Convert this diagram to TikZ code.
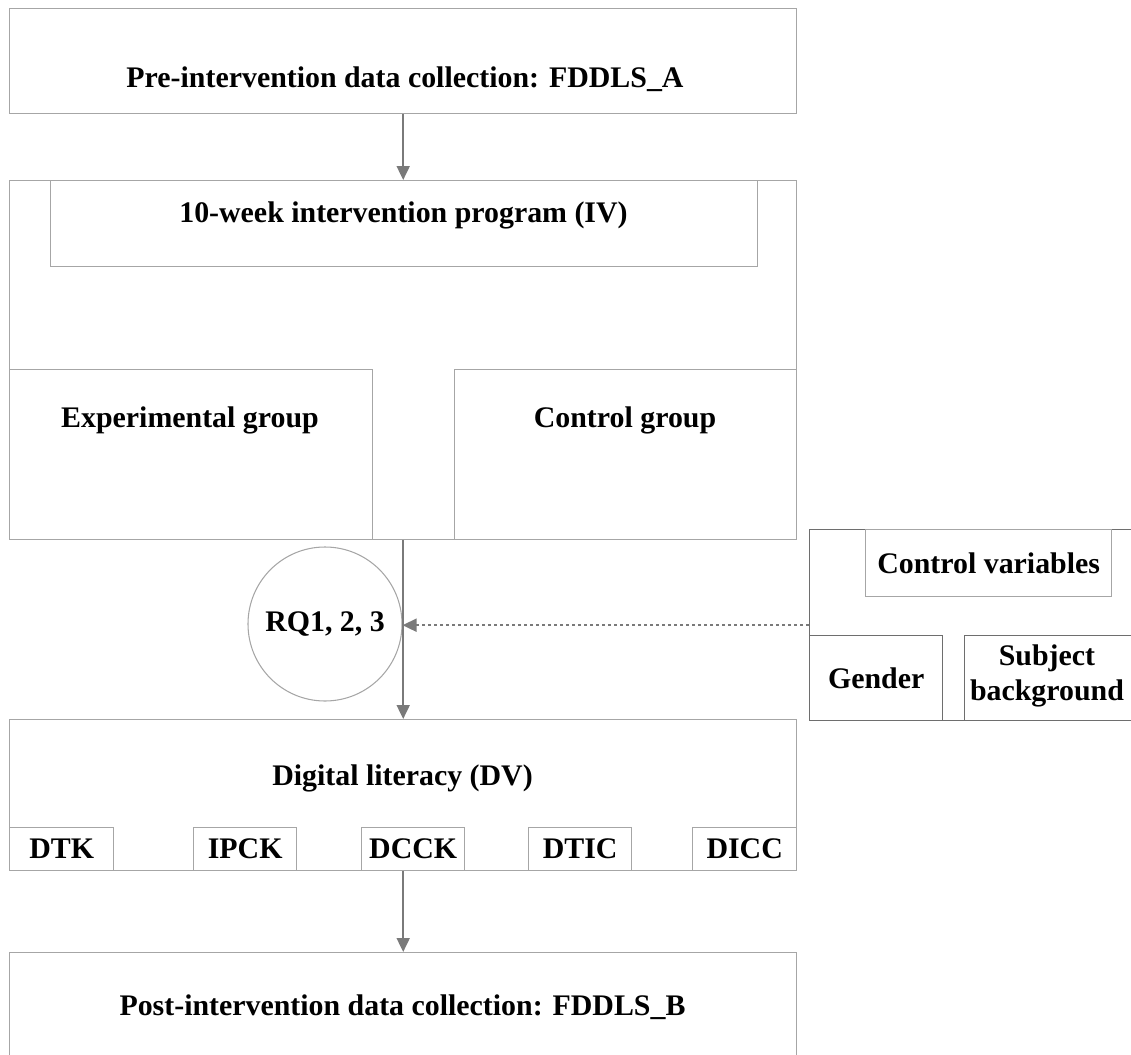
\documentclass[tikz,border=0pt]{standalone}
\usepackage{fontspec}
\setmainfont{Liberation Serif}
\usepackage{tikz}
\usetikzlibrary{positioning, arrows.meta}
\definecolor{boxGrey}{HTML}{A6A6A6}
\definecolor{varGrey}{HTML}{6E6E6E}
\definecolor{arrowGrey}{HTML}{7A7A7A}

\begin{document}
\begin{tikzpicture}[font=\fontsize{17}{20}\selectfont\bfseries,
  box/.style={draw=boxGrey, line width=0.8pt, anchor=north west, inner sep=0pt},
  varbox/.style={box, draw=varGrey},
  txt/.style={anchor=center, inner sep=0pt, align=center},
  flow/.style={draw=arrowGrey, line width=1.1pt, -{Triangle[length=0.28cm, width=0.26cm]}},
  hint/.style={draw=arrowGrey, line width=1pt, dash pattern=on 0.06cm off 0.06cm, -{Triangle[length=0.28cm, width=0.26cm]}}]
  \useasboundingbox (0,0) rectangle (22.62,-21.10);
  \clip (0,0) rectangle (22.62,-21.10);

  % pre-intervention
  \node[box, minimum width=15.74cm, minimum height=2.10cm] (pre) at (0.18,-0.16) {};
  \node[txt] (pretxt) at (8.10,-1.58) {Pre-intervention data collection: FDDLS\_A};

  % intervention block
  \node[box, minimum width=15.74cm, minimum height=7.18cm] (prog) at (0.18,-3.60) {};
  \node[box, minimum width=14.14cm, minimum height=1.72cm] (iv) at (1.00,-3.60) {};
  \node[txt] (ivtxt) at (8.07,-4.30) {10-week intervention program (IV)};
  \node[box, minimum width=7.26cm, minimum height=3.40cm] (exp) at (0.18,-7.38) {};
  \node[txt] (exptxt) at (3.80,-8.40) {Experimental group};
  \node[box, minimum width=6.84cm, minimum height=3.40cm] (ctl) at (9.08,-7.38) {};
  \node[txt] (ctltxt) at (12.50,-8.40) {Control group};

  % research questions
  \node[circle, draw=boxGrey, line width=0.6pt, minimum size=3.08cm, inner sep=0pt] (rq) at (6.50,-12.48) {RQ1, 2, 3};

  % control variables
  \node[varbox, minimum width=7.20cm, minimum height=3.82cm] (cv) at (16.18,-10.58) {};
  \node[box, minimum width=4.92cm, minimum height=1.34cm] (cvt) at (17.30,-10.58) {Control variables};
  \node[varbox, minimum width=2.66cm, minimum height=1.70cm] (gen) at (16.18,-12.70) {Gender};
  \node[varbox, minimum width=4.00cm, minimum height=1.70cm] (sub) at (19.28,-12.70) {};
  \node[txt] (subtxt) at (20.94,-13.52) {Subject\\background};

  % digital literacy
  \node[box, minimum width=15.74cm, minimum height=3.02cm] (dv) at (0.18,-14.38) {};
  \node[txt] (dvtxt) at (8.05,-15.56) {Digital literacy (DV)};
  \node[box, minimum width=2.08cm, minimum height=0.86cm] (dtk) at (0.18,-16.54) {DTK};
  \node[box, minimum width=2.06cm, minimum height=0.86cm] (ipck) at (3.86,-16.54) {IPCK};
  \node[box, minimum width=2.06cm, minimum height=0.86cm] (dcck) at (7.22,-16.54) {DCCK};
  \node[box, minimum width=2.06cm, minimum height=0.86cm] (dtic) at (10.56,-16.54) {DTIC};
  \node[box, minimum width=2.08cm, minimum height=0.86cm] (dicc) at (13.84,-16.54) {DICC};

  % post-intervention
  \node[box, minimum width=15.74cm, minimum height=2.60cm] (post) at (0.18,-19.04) {};
  \node[txt] (posttxt) at (8.05,-20.14) {Post-intervention data collection: FDDLS\_B};

  % arrows
  \draw[flow] (pre.south) -- (prog.north);
  \draw[flow] (prog.south) -- (dv.north);
  \draw[flow] (dv.south) -- (post.north);
  \draw[hint] (cv.west) -- (cv.west -| rq.east);
\end{tikzpicture}
\end{document}
